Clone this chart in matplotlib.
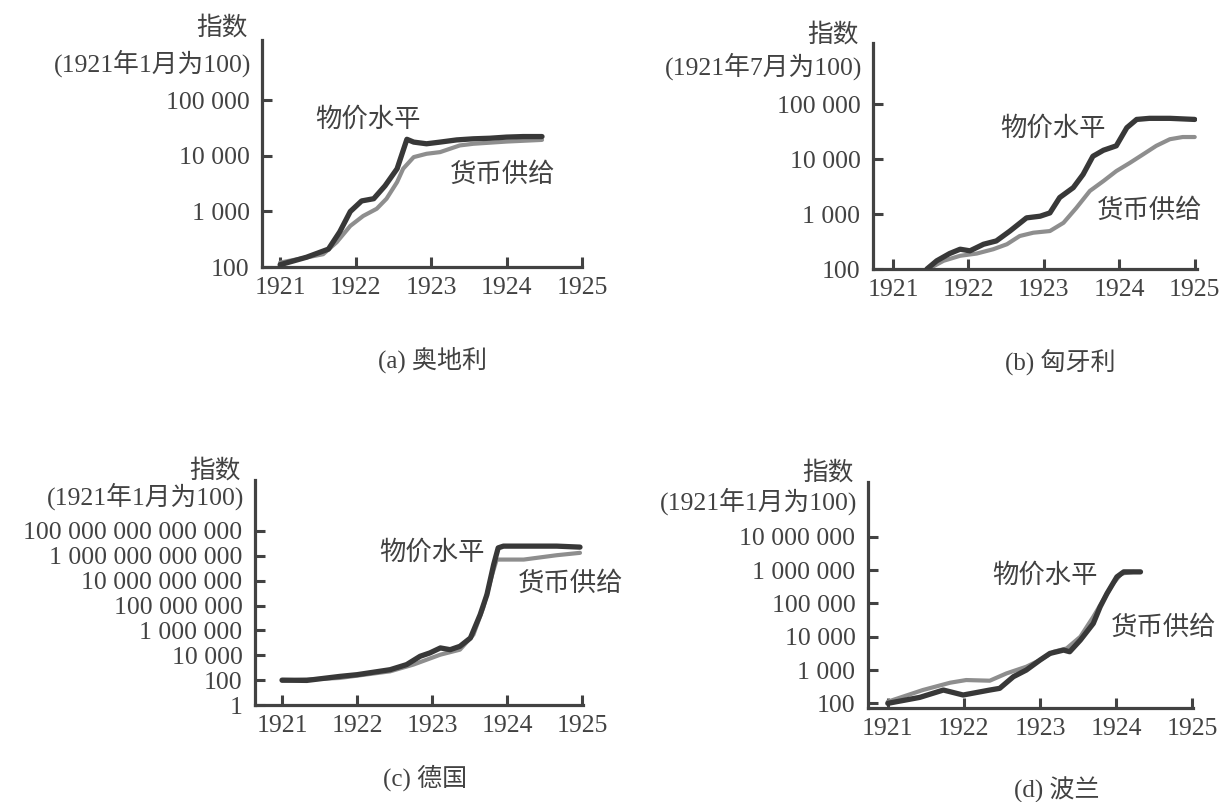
import matplotlib.pyplot as plt

plt.rcParams['font.family'] = ['Liberation Serif', 'Noto Sans CJK SC']

# ---- datos (indice, escala log) ----
years = [1921, 1922, 1923, 1924, 1925]
year_labels = ['1921', '1922', '1923', '1924', '1925']

# (a) Austria
aus_price_x = [1921.0, 1921.35, 1921.64, 1921.79, 1921.93, 1922.08, 1922.24, 1922.39, 1922.55, 1922.68,
               1922.77, 1922.94, 1923.12, 1923.34, 1923.56, 1923.78, 1924.0, 1924.22, 1924.47]
aus_price = [110, 150, 210, 430, 1000, 1550, 1700, 2900, 5900, 20000,
             17800, 16600, 17800, 19500, 20400, 20900, 21900, 22400, 22400]
aus_money_x = [1921.0, 1921.57, 1921.75, 1921.93, 1922.10, 1922.28, 1922.41, 1922.55, 1922.63, 1922.77,
               1922.94, 1923.12, 1923.38, 1923.56, 1924.0, 1924.47]
aus_money = [120, 170, 280, 550, 830, 1120, 1700, 3390, 5890, 9550,
             10960, 11750, 15490, 16600, 18200, 19500]
aus_yticks = [100, 1000, 10000, 100000]
aus_ylabels = ['100', '1 000', '10 000', '100 000']

# (b) Hungria
hun_price_x = [1921.45, 1921.58, 1921.75, 1921.89, 1922.02, 1922.20, 1922.37, 1922.55, 1922.77, 1922.95,
               1923.08, 1923.21, 1923.39, 1923.52, 1923.65, 1923.79, 1923.96, 1924.10, 1924.23, 1924.40,
               1924.67, 1925.0]
hun_price = [100, 141, 191, 229, 214, 282, 324, 490, 851, 912,
             1047, 1995, 3020, 5248, 11220, 14450, 17380, 37150, 52480, 54950,
             54950, 52480]
hun_money_x = [1921.47, 1921.67, 1921.89, 1922.11, 1922.33, 1922.51, 1922.68, 1922.86, 1923.08, 1923.26,
               1923.43, 1923.61, 1923.79, 1923.96, 1924.14, 1924.31, 1924.49, 1924.67, 1924.84, 1925.0]
hun_money = [100, 141, 174, 191, 229, 282, 398, 457, 490, 692,
             1288, 2630, 3980, 6030, 8510, 12020, 17380, 22910, 25120, 25120]
hun_yticks = [100, 1000, 10000, 100000]
hun_ylabels = ['100', '1 000', '10 000', '100 000']

# (c) Alemania
ger_price_x = [1921.0, 1921.33, 1921.77, 1922.0, 1922.44, 1922.66, 1922.84, 1922.97, 1923.11, 1923.24,
               1923.37, 1923.51, 1923.64, 1923.73, 1923.82, 1923.88, 1923.95, 1924.22, 1924.66, 1924.97]
ger_price = [100, 95, 200, 275, 692, 1778, 8318, 15490, 38900, 28180,
             52480, 245500, 1.86e7, 7.59e8, 2.0e11, 4.37e12, 6.03e12, 6.03e12, 6.03e12, 5.01e12]
ger_money_x = [1921.0, 1921.77, 1922.44, 1922.75, 1923.11, 1923.37, 1923.55, 1923.68, 1923.80, 1923.86,
               1923.95, 1924.22, 1924.66, 1924.97]
ger_money = [90, 150, 510, 1780, 11200, 28200, 457000, 6.46e7, 3.09e10, 5.0e11,
             5.0e11, 5.0e11, 1.12e12, 1.74e12]
ger_yticks = [1, 1e2, 1e4, 1e6, 1e8, 1e10, 1e12, 1e14]
ger_ylabels = ['1', '100', '10 000', '1 000 000', '100 000 000', '10 000 000 000',
               '1 000 000 000 000', '100 000 000 000 000']

# (d) Polonia
pol_price_x = [1921.0, 1921.42, 1921.73, 1921.99, 1922.34, 1922.47, 1922.65, 1922.82, 1923.0, 1923.13,
               1923.31, 1923.39, 1923.53, 1923.70, 1923.79, 1923.88, 1924.01, 1924.10, 1924.32]
pol_price = [100, 151, 251, 178, 251, 282, 631, 1000, 1995, 3160,
             3980, 3550, 7940, 25120, 79430, 199500, 631000, 891000, 891000]
pol_money_x = [1921.0, 1921.46, 1921.82, 1922.03, 1922.34, 1922.56, 1922.82, 1923.0, 1923.18, 1923.35,
               1923.53, 1923.70, 1923.83, 1923.96, 1924.07, 1924.23]
pol_money = [112, 251, 417, 501, 479, 794, 1259, 1995, 3550, 4470,
             10000, 39810, 125900, 398100, 794300, 891000]
pol_yticks = [100, 1000, 10000, 100000, 1000000, 10000000]
pol_ylabels = ['100', '1 000', '10 000', '100 000', '1 000 000', '10 000 000']

INK = '#424242'
DARK = '#383838'
LIGHT = '#8e8e8e'
FS = 18.5


def draw_panel(ax, px, py, mx, my, yticks, ylabels, ylim, xlim, base, caption, cap_xy,
               price_xy, money_xy, top_off, sub_off):
    ax.set_yscale('log')
    ax.plot(mx, my, color=LIGHT, lw=3.0, solid_capstyle='round', solid_joinstyle='round', zorder=2)
    ax.plot(px, py, color=DARK, lw=3.8, solid_capstyle='round', solid_joinstyle='round', zorder=3)
    ax.set_xlim(*xlim)
    ax.set_ylim(*ylim)
    ax.minorticks_off()
    ax.set_xticks(years)
    ax.set_xticklabels(year_labels)
    ax.set_yticks(yticks)
    ax.set_yticklabels(ylabels)
    for s in ['top', 'right']:
        ax.spines[s].set_visible(False)
    for s in ['left', 'bottom']:
        ax.spines[s].set_linewidth(2.3)
        ax.spines[s].set_color(INK)
    ax.tick_params(axis='both', direction='in', length=7, width=2.2, color=INK,
                   labelsize=FS, labelcolor=INK)
    ax.tick_params(axis='x', pad=7)
    ax.tick_params(axis='y', pad=9)
    ax.annotate('指数', xy=(0, 1), xycoords='axes fraction', xytext=(-10, top_off),
                textcoords='offset points', ha='right', va='center', fontsize=FS, color=INK)
    ax.annotate(base, xy=(0, 1), xycoords='axes fraction', xytext=(-8, sub_off),
                textcoords='offset points', ha='right', va='center', fontsize=FS, color=INK)
    ax.text(price_xy[0], price_xy[1], '物价水平', fontsize=19, color=INK, ha='center', va='center')
    ax.text(money_xy[0], money_xy[1], '货币供给', fontsize=19, color=INK, ha='center', va='center')
    fig.text(cap_xy[0] / 1225, 1 - cap_xy[1] / 802, caption, fontsize=18, color=INK,
             ha='center', va='center')


fig = plt.figure(figsize=(12.25, 8.02), dpi=100)

ax_a = fig.add_axes([262 / 1225, 1 - 267 / 802, 320 / 1225, 227 / 802])
draw_panel(ax_a, aus_price_x, aus_price, aus_money_x, aus_money, aus_yticks, aus_ylabels,
           (100, 10 ** 6.09), (1920.76, 1925.0), '(1921年1月为100)', '(a) 奥地利', (433, 360),
           (1922.17, 44700), (1923.95, 4570), 9, -17)

ax_b = fig.add_axes([873 / 1225, 1 - 269 / 802, 324 / 1225, 226 / 802])
draw_panel(ax_b, hun_price_x, hun_price, hun_money_x, hun_money, hun_yticks, hun_ylabels,
           (100, 10 ** 6.11), (1920.735, 1925.03), '(1921年7月为100)', '(b) 匈牙利', (1060, 362),
           (1923.12, 36300), (1924.40, 1170), 6, -17)

ax_c = fig.add_axes([255 / 1225, 1 - 705 / 802, 328 / 1225, 225 / 802])
draw_panel(ax_c, ger_price_x, ger_price, ger_money_x, ger_money, ger_yticks, ger_ylabels,
           (1, 10 ** 18.1), (1920.64, 1925.01), '(1921年1月为100)', '(c) 德国', (425, 778),
           (1923.0, 2.0e12), (1924.84, 6.3e9), 7, -12)

ax_d = fig.add_axes([868 / 1225, 1 - 708 / 802, 325 / 1225, 226 / 802])
draw_panel(ax_d, pol_price_x, pol_price, pol_money_x, pol_money, pol_yticks, pol_ylabels,
           (10 ** 1.86, 10 ** 8.65), (1920.74, 1925.01), '(1921年1月为100)', '(d) 波兰', (1057, 790),
           (1923.07, 708000), (1924.62, 19500), 7, -14)

fig.savefig('out.png', dpi=100, facecolor='white')
